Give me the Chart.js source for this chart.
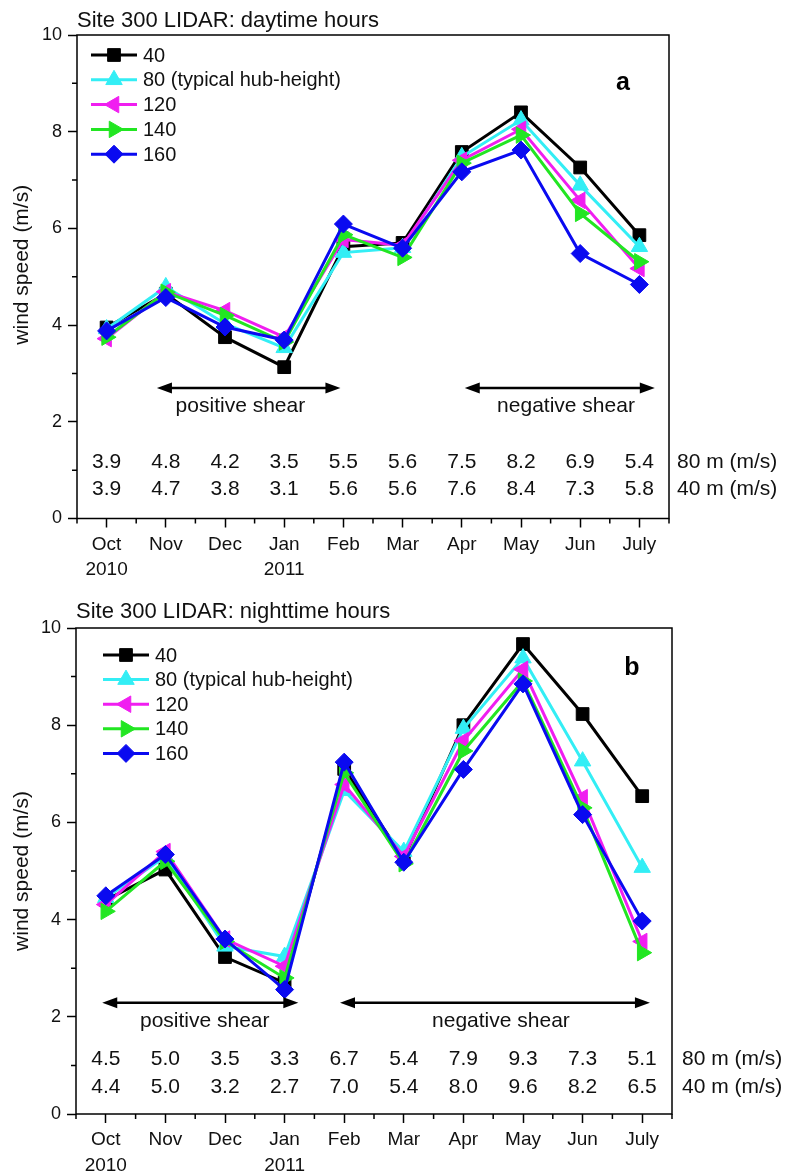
<!DOCTYPE html>
<html>
<head>
<meta charset="utf-8">
<script src="https://cdn.jsdelivr.net/npm/chart.js@4.4.1/dist/chart.umd.min.js"></script>
<style>
html,body{margin:0;padding:0;background:#fff;width:786px;height:1175px;overflow:hidden;}
.box{position:absolute;left:0;width:786px;}
#w1{top:0;height:590px;}
#w2{top:590px;height:585px;}
</style>
</head>
<body>
<div class="box" id="w1"><canvas id="c1"></canvas></div>
<div class="box" id="w2"><canvas id="c2"></canvas></div>
<script>
// ---------------- data ----------------
const months = ['Oct','Nov','Dec','Jan','Feb','Mar','Apr','May','Jun','July'];
const years  = ['2010','','','2011','','','','','',''];
const seriesNames = ['40','80 (typical hub-height)','120','140','160'];

// daytime hours (m/s)
const day40  = [3.95,4.65,3.75,3.13,5.62,5.70,7.58,8.40,7.26,5.86];
const day80  = [3.92,4.79,4.03,3.53,5.50,5.60,7.48,8.24,6.89,5.62];
const day120 = [3.72,4.69,4.30,3.75,5.77,5.65,7.41,8.05,6.58,5.17];
const day140 = [3.75,4.68,4.20,3.65,5.87,5.40,7.35,7.93,6.31,5.31];
const day160 = [3.88,4.57,3.96,3.69,6.09,5.59,7.17,7.62,5.48,4.84];

// nighttime hours (m/s)
const night40  = [4.40,5.03,3.23,2.70,7.10,5.25,8.00,9.67,8.23,6.54];
const night80  = [4.45,5.30,3.45,3.24,6.65,5.40,7.93,9.38,7.26,5.07];
const night120 = [4.31,5.40,3.60,3.04,6.78,5.30,7.68,9.15,6.51,3.55];
const night140 = [4.17,5.20,3.55,2.80,7.02,5.15,7.47,8.91,6.30,3.32];
const night160 = [4.49,5.34,3.60,2.56,7.24,5.18,7.09,8.85,6.16,3.97];

// printed tables
const dayTable80   = ['3.9','4.8','4.2','3.5','5.5','5.6','7.5','8.2','6.9','5.4'];
const dayTable40   = ['3.9','4.7','3.8','3.1','5.6','5.6','7.6','8.4','7.3','5.8'];
const nightTable80 = ['4.5','5.0','3.5','3.3','6.7','5.4','7.9','9.3','7.3','5.1'];
const nightTable40 = ['4.4','5.0','3.2','2.7','7.0','5.4','8.0','9.6','8.2','6.5'];
const tableRowLabels = ['80 m (m/s)','40 m (m/s)'];

// ---------------- styles ----------------
const FONT = "'Liberation Sans', Arial, Helvetica, sans-serif";
const seriesColors = ['#000000','#33eef5','#f01ef0','#22e622','#0a0af0'];
const pointStyles  = ['rect','triangle','triangle','triangle','rectRot'];
const rotations    = [0,0,-90,90,0];
const radii        = [9,9.5,9.5,9.5,9];
const drawOrder    = [4,3,2,1,0];

function drawMarker(ctx, style, rot, r, x, y, color){
  ctx.save();
  ctx.fillStyle = color; ctx.strokeStyle = color; ctx.lineWidth = 1;
  ctx.beginPath();
  if (style === 'rect'){
    const s = Math.SQRT1_2 * r;
    ctx.rect(x - s, y - s, 2*s, 2*s);
  } else if (style === 'rectRot'){
    ctx.moveTo(x - r, y); ctx.lineTo(x, y - r); ctx.lineTo(x + r, y); ctx.lineTo(x, y + r);
    ctx.closePath();
  } else {
    let rad = rot * Math.PI / 180;
    ctx.moveTo(x + Math.sin(rad)*r, y - Math.cos(rad)*r);
    rad += 2*Math.PI/3;
    ctx.lineTo(x + Math.sin(rad)*r, y - Math.cos(rad)*r);
    rad += 2*Math.PI/3;
    ctx.lineTo(x + Math.sin(rad)*r, y - Math.cos(rad)*r);
    ctx.closePath();
  }
  ctx.fill(); ctx.stroke();
  ctx.restore();
}

const isInt = v => Math.abs(v - Math.round(v)) < 1e-6;

const decorPlugin = {
  id: 'decor',
  afterDraw(chart, args, o){
    const ctx = chart.ctx, a = chart.chartArea, xs = chart.scales.x, ys = chart.scales.y;
    ctx.save();
    // frame
    ctx.strokeStyle = '#000'; ctx.lineWidth = 1.5;
    ctx.strokeRect(a.left, a.top, a.right - a.left, a.bottom - a.top);
    // minor ticks
    ctx.lineWidth = 1.5; ctx.beginPath();
    xs.ticks.forEach(t => { if (!isInt(t.value)) { const px = xs.getPixelForValue(t.value); ctx.moveTo(px, a.bottom); ctx.lineTo(px, a.bottom + 5); } });
    ys.ticks.forEach(t => { if (Math.round(t.value) % 2 !== 0) { const py = ys.getPixelForValue(t.value); ctx.moveTo(a.left, py); ctx.lineTo(a.left - 5, py); } });
    ctx.stroke();
    // title
    ctx.fillStyle = '#111';
    ctx.font = '22px ' + FONT; ctx.textAlign = 'left'; ctx.textBaseline = 'alphabetic';
    ctx.fillText(o.title, a.left + o.titleDx, a.top - o.titleGap);
    // panel letter
    ctx.font = 'bold 25px ' + FONT; ctx.textAlign = 'center';
    ctx.fillStyle = '#000';
    ctx.fillText(o.letter, a.right - o.letterDx, a.top + o.letterDy);
    // y axis title
    ctx.save();
    ctx.translate(22, (a.top + a.bottom)/2 + o.yTitleDy);
    ctx.rotate(-Math.PI/2);
    ctx.font = '21px ' + FONT; ctx.textAlign = 'center'; ctx.textBaseline = 'middle'; ctx.fillStyle = '#111';
    ctx.fillText('wind speed (m/s)', 0, 0);
    ctx.restore();
    // legend
    chart.data.datasets.forEach((ds, i) => {
      const y = a.top + o.legTop + i * o.legDy;
      const x0 = a.left + o.legX0, x1 = a.left + o.legX0 + 46;
      ctx.strokeStyle = ds.borderColor; ctx.lineWidth = 3;
      ctx.beginPath(); ctx.moveTo(x0, y); ctx.lineTo(x1, y); ctx.stroke();
      drawMarker(ctx, ds.pointStyle, ds.rotation, ds.pointRadius, (x0 + x1)/2, y, ds.borderColor);
      ctx.fillStyle = '#111'; ctx.font = '20px ' + FONT; ctx.textAlign = 'left'; ctx.textBaseline = 'middle';
      ctx.fillText(ds.label, x1 + 6, y + 1);
    });
    // shear arrows
    ctx.strokeStyle = '#000'; ctx.fillStyle = '#000'; ctx.lineWidth = 2.5;
    o.arrows.forEach(ar => {
      const x0 = xs.getPixelForValue(ar.from), x1 = xs.getPixelForValue(ar.to), y = ys.getPixelForValue(ar.y);
      ctx.beginPath(); ctx.moveTo(x0 + 8, y); ctx.lineTo(x1 - 8, y); ctx.stroke();
      ctx.beginPath(); ctx.moveTo(x0, y); ctx.lineTo(x0 + 15, y - 5.5); ctx.lineTo(x0 + 15, y + 5.5); ctx.closePath(); ctx.fill();
      ctx.beginPath(); ctx.moveTo(x1, y); ctx.lineTo(x1 - 15, y - 5.5); ctx.lineTo(x1 - 15, y + 5.5); ctx.closePath(); ctx.fill();
      ctx.font = '21px ' + FONT; ctx.textAlign = 'center'; ctx.textBaseline = 'middle'; ctx.fillStyle = '#111';
      ctx.fillText(ar.label, xs.getPixelForValue(ar.labelX), ys.getPixelForValue(ar.labelY));
      ctx.fillStyle = '#000';
    });
    // tables
    ctx.font = '21px ' + FONT; ctx.textBaseline = 'middle'; ctx.fillStyle = '#111';
    o.tables.forEach((row, ri) => {
      const y = ys.getPixelForValue(o.tableY[ri]);
      ctx.textAlign = 'center';
      row.forEach((txt, i) => ctx.fillText(txt, xs.getPixelForValue(i), y));
      ctx.textAlign = 'left';
      ctx.fillText(tableRowLabels[ri], a.right + o.rowLabelDx, y);
    });
    ctx.restore();
  }
};

function makeChart(canvasId, series, cfg){
  const datasets = series.map((vals, i) => ({
    label: seriesNames[i],
    data: vals.map((v, k) => ({x: k, y: v})),
    borderColor: seriesColors[i],
    backgroundColor: seriesColors[i],
    pointBackgroundColor: seriesColors[i],
    pointBorderColor: seriesColors[i],
    pointBorderWidth: 1,
    borderWidth: 3,
    pointStyle: pointStyles[i],
    rotation: rotations[i],
    pointRadius: radii[i],
    tension: 0,
    fill: false,
    clip: false,
    order: drawOrder[i]
  }));
  return new Chart(document.getElementById(canvasId), {
    type: 'line',
    data: { datasets },
    plugins: [decorPlugin],
    options: {
      responsive: true,
      maintainAspectRatio: false,
      animation: false,
      devicePixelRatio: 1,
      events: [],
      layout: { padding: { top: cfg.padTop, right: cfg.padRight, left: 0, bottom: 0 } },
      plugins: {
        legend: { display: false },
        tooltip: { enabled: false },
        decor: cfg.decor
      },
      scales: {
        x: {
          type: 'linear', min: -0.5, max: 9.5,
          border: { display: false },
          grid: { drawOnChartArea: false, drawTicks: true, tickLength: 9, tickWidth: 1.5,
                  tickColor: c => (c.tick && isInt(c.tick.value)) ? '#000' : 'rgba(0,0,0,0)' },
          ticks: {
            stepSize: 0.5, autoSkip: false, maxRotation: 0, minRotation: 0, padding: 4,
            color: '#111', font: { family: FONT, size: 19, lineHeight: 1.35 },
            callback: v => { if (!isInt(v)) return ''; const k = Math.round(v); return years[k] ? [months[k], years[k]] : months[k]; }
          },
          afterFit: s => { s.height = cfg.xHeight; }
        },
        y: {
          min: 0, max: 10,
          border: { display: false },
          grid: { drawOnChartArea: false, drawTicks: true, tickLength: 9, tickWidth: 1.5,
                  tickColor: c => (c.tick && Math.round(c.tick.value) % 2 === 0) ? '#000' : 'rgba(0,0,0,0)' },
          ticks: {
            stepSize: 1, padding: 6, color: '#111', font: { family: FONT, size: 18 },
            callback: v => (Math.round(v) % 2 === 0 ? String(v) : '')
          },
          afterFit: s => { s.width = cfg.yWidth; }
        }
      }
    }
  });
}

makeChart('c1', [day40, day80, day120, day140, day160], {
  padTop: 35, padRight: 117, xHeight: 71.5, yWidth: 77,
  decor: {
    title: 'Site 300 LIDAR: daytime hours', titleDx: 0, titleGap: 8,
    letter: 'a', letterDx: 46, letterDy: 55, yTitleDy: -12,
    legTop: 20, legDy: 24.8, legX0: 14,
    arrows: [
      { from: 0.85, to: 3.95, y: 2.70, label: 'positive shear', labelX: 2.26, labelY: 2.33 },
      { from: 6.05, to: 9.26, y: 2.70, label: 'negative shear', labelX: 7.76, labelY: 2.33 }
    ],
    tables: [dayTable80, dayTable40], tableY: [1.16, 0.6], rowLabelDx: 8
  }
});

makeChart('c2', [night40, night80, night120, night140, night160], {
  padTop: 38, padRight: 114, xHeight: 61, yWidth: 76,
  decor: {
    title: 'Site 300 LIDAR: nighttime hours', titleDx: 0, titleGap: 10,
    letter: 'b', letterDx: 40, letterDy: 47, yTitleDy: 0,
    legTop: 27, legDy: 24.6, legX0: 27,
    arrows: [
      { from: -0.06, to: 3.23, y: 2.29, label: 'positive shear', labelX: 1.66, labelY: 1.90 },
      { from: 3.93, to: 9.13, y: 2.29, label: 'negative shear', labelX: 6.63, labelY: 1.90 }
    ],
    tables: [nightTable80, nightTable40], tableY: [1.13, 0.56], rowLabelDx: 10
  }
});
</script>
</body>
</html>
